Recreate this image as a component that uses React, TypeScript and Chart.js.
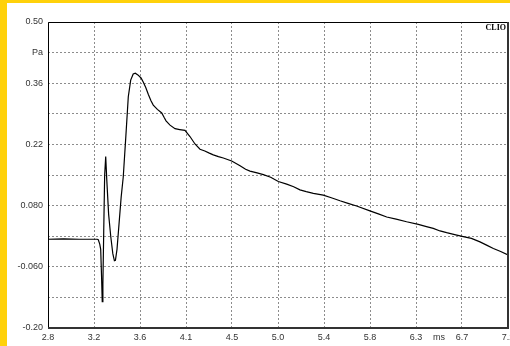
import React, { useEffect, useRef } from "react";
import { Chart, registerables } from "chart.js";

Chart.register(...registerables);

const timeMs: number[] = [
  2.8, 2.95, 3.1, 3.27, 3.281, 3.295, 3.304, 3.312, 3.319, 3.325, 3.333, 3.342, 3.352, 3.362,
  3.38, 3.4, 3.42, 3.435, 3.445, 3.46, 3.48, 3.5, 3.52, 3.545, 3.568, 3.591, 3.615, 3.635,
  3.66, 3.69, 3.712, 3.735, 3.76, 3.785, 3.807, 3.846, 3.888, 3.91, 3.929, 3.967, 4.015,
  4.06, 4.11, 4.158, 4.206, 4.254, 4.3, 4.343, 4.381, 4.43, 4.477, 4.557, 4.637, 4.69,
  4.732, 4.8, 4.86, 4.93, 5.003, 5.083, 5.15, 5.21, 5.27, 5.338, 5.433, 5.51, 5.593, 5.67,
  5.752, 5.879, 5.96, 6.04, 6.13, 6.23, 6.342, 6.42, 6.485, 6.55, 6.613, 6.7, 6.772, 6.85,
  6.932, 7.0, 7.06, 7.13, 7.2,
];

const pressurePa: number[] = [
  0.003, 0.004, 0.003, 0.003, 0.002, -0.008, -0.02, -0.08, -0.14, -0.1, 0.02, 0.15, 0.192, 0.14,
  0.06, 0.01, -0.03, -0.046, -0.045, -0.02, 0.04, 0.1, 0.146, 0.24, 0.329, 0.367, 0.381, 0.383,
  0.379, 0.372, 0.362, 0.35, 0.334, 0.32, 0.31, 0.3, 0.292, 0.282, 0.274, 0.264, 0.256,
  0.254, 0.252, 0.238, 0.221, 0.209, 0.205, 0.2, 0.196, 0.192, 0.189, 0.182, 0.171, 0.163,
  0.159, 0.155, 0.151, 0.145, 0.135, 0.129, 0.123, 0.116, 0.112, 0.108, 0.104, 0.098, 0.091, 0.085,
  0.079, 0.068, 0.061, 0.054, 0.049, 0.043, 0.037, 0.032, 0.028, 0.022, 0.018, 0.013, 0.009, 0.005,
  -0.003, -0.011, -0.018, -0.025, -0.033,
];

const xTickValues: number[] = [2.8, 3.24, 3.68, 4.12, 4.56, 5.0, 5.44, 5.88, 6.32, 6.76, 7.2];
const xTickLabels: string[] = ["2.8", "3.2", "3.6", "4.1", "4.5", "5.0", "5.4", "5.8", "6.3", "6.7", "7.2"];

const yTickValues: number[] = [-0.2, -0.13, -0.06, 0.01, 0.08, 0.15, 0.22, 0.29, 0.36, 0.43, 0.5];
const yTickLabels: string[] = ["-0.20", "", "-0.060", "", "0.080", "", "0.22", "", "0.36", "Pa", "0.50"];

const xUnit = "ms";
const brand = "CLIO";

const decorPlugin = {
  id: "decor",
  afterDraw(chart: any) {
    const { ctx, chartArea } = chart;
    const { left, right, top, bottom } = chartArea;
    ctx.save();
    ctx.strokeStyle = "#000";
    ctx.lineWidth = 1;
    ctx.beginPath();
    ctx.moveTo(left + 0.5, bottom);
    ctx.lineTo(left + 0.5, top + 0.5);
    ctx.lineTo(right, top + 0.5);
    ctx.stroke();
    ctx.strokeStyle = "#333";
    ctx.lineWidth = 2;
    ctx.beginPath();
    ctx.moveTo(left, bottom);
    ctx.lineTo(right, bottom);
    ctx.lineTo(right, top);
    ctx.stroke();
    ctx.fillStyle = "#000";
    ctx.font = "bold 8px 'Liberation Serif', serif";
    ctx.textAlign = "right";
    ctx.textBaseline = "top";
    ctx.fillText(brand, right - 2, top + 2);
    ctx.fillStyle = "#333";
    ctx.font = "9px 'Liberation Sans', Arial, sans-serif";
    ctx.textAlign = "center";
    ctx.textBaseline = "top";
    const xs = chart.scales.x;
    ctx.fillText(xUnit, (xs.getPixelForValue(6.32) + xs.getPixelForValue(6.76)) / 2, bottom + 5);
    ctx.restore();
  },
};

export default function App() {
  const ref = useRef<HTMLCanvasElement | null>(null);

  useEffect(() => {
    if (!ref.current) return;
    const chart = new Chart(ref.current, {
      type: "line",
      data: {
        datasets: [
          {
            data: timeMs.map((t, i) => ({ x: t, y: pressurePa[i] })),
            borderColor: "#000",
            borderWidth: 1.2,
            pointRadius: 0,
            tension: 0,
            fill: false,
          },
        ],
      },
      options: {
        animation: false,
        responsive: false,
        maintainAspectRatio: false,
        layout: { padding: { left: 0, right: 2, top: 19, bottom: 0 } },
        plugins: { legend: { display: false }, tooltip: { enabled: false } },
        scales: {
          x: {
            type: "linear",
            min: 2.8,
            max: 7.2,
            afterBuildTicks: (axis: any) => {
              axis.ticks = xTickValues.map((v) => ({ value: v }));
            },
            afterFit: (axis: any) => {
              axis.height = 18;
              axis.paddingLeft = 0;
              axis.paddingRight = 0;
            },
            ticks: {
              autoSkip: false,
              maxRotation: 0,
              padding: 4,
              color: "#333",
              font: { family: "'Liberation Sans', Arial, sans-serif", size: 9 },
              callback: (_v: any, i: number) => xTickLabels[i],
            },
            grid: { color: "#8c8c8c", lineWidth: 1, drawTicks: false, tickLength: 0 },
            border: { display: false, dash: [2, 2] },
          },
          y: {
            type: "linear",
            min: -0.2,
            max: 0.5,
            afterBuildTicks: (axis: any) => {
              axis.ticks = yTickValues.map((v) => ({ value: v }));
            },
            afterFit: (axis: any) => {
              axis.width = 41;
              axis.paddingTop = 0;
              axis.paddingBottom = 0;
            },
            ticks: {
              autoSkip: false,
              padding: 5,
              color: "#333",
              font: { family: "'Liberation Sans', Arial, sans-serif", size: 9 },
              callback: (_v: any, i: number) => yTickLabels[i],
            },
            grid: { color: "#8c8c8c", lineWidth: 1, drawTicks: false, tickLength: 0 },
            border: { display: false, dash: [2, 2] },
          },
        },
      },
      plugins: [decorPlugin],
    });
    return () => chart.destroy();
  }, []);

  return (
    <div
      style={{
        position: "fixed",
        left: 0,
        top: 0,
        width: 503,
        height: 343,
        borderLeft: "7px solid #FFD10A",
        borderTop: "3px solid #FFD10A",
        background: "#fff",
      }}
    >
      <canvas ref={ref} width={503} height={343} style={{ display: "block", width: 503, height: 343 }} />
    </div>
  );
}
